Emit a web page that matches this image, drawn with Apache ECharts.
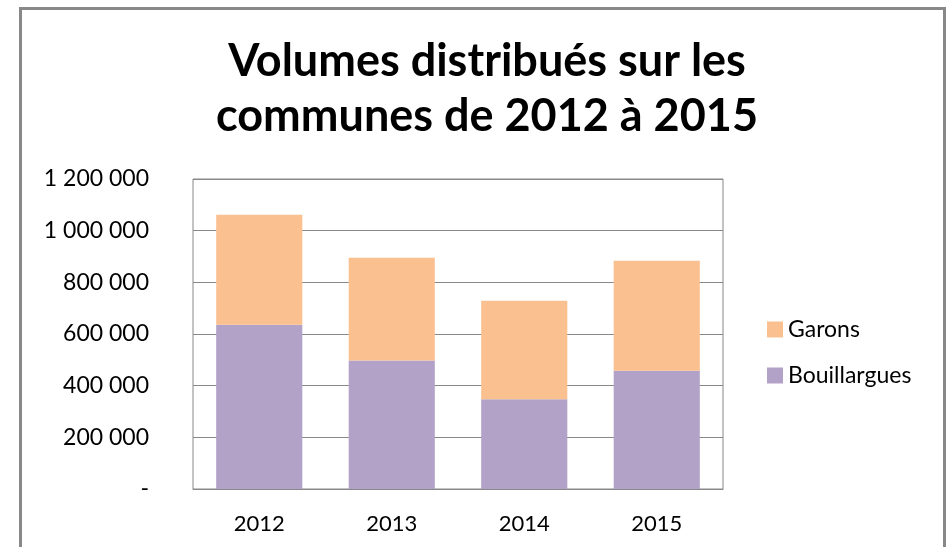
<!DOCTYPE html>
<html>
<head>
<meta charset="utf-8">
<script src="https://cdn.jsdelivr.net/npm/echarts@6/dist/echarts.min.js"></script>
<style>html,body{margin:0;padding:0;background:#fff;}#c{width:950px;height:547px;}</style>
</head>
<body>
<div id="c"></div>
<script>
const titleText = 'Volumes distribués sur les\ncommunes de 2012 à 2015';
const categories = ['2012', '2013', '2014', '2015'];
const bouillargues = [636000, 497000, 347000, 458000];
const garons = [426000, 398000, 382000, 426000];
const yTicks = { min: 0, max: 1200000, interval: 200000 };

const chart = echarts.init(document.getElementById('c'));
const FONT = 'Lato';
function fmt(v) {
  if (v === 0) return '-';
  return String(v).replace(/\B(?=(\d{3})+(?!\d))/g, ' ');
}
chart.setOption({
  animation: false,
  backgroundColor: '#fff',
  title: {
    text: titleText,
    left: 482,
    top: 29,
    textAlign: 'center',
    textStyle: { fontFamily: FONT, fontWeight: 'bold', fontSize: 45, color: '#000', lineHeight: 55 }
  },
  graphic: [{
    type: 'rect',
    shape: { x: 20.5, y: 8.5, width: 924, height: 560 },
    style: { fill: 'none', stroke: '#888', lineWidth: 3 },
    silent: true
  }],
  legend: {
    orient: 'vertical',
    left: 762,
    top: 313,
    itemWidth: 16,
    itemHeight: 16,
    itemGap: 23,
    icon: 'rect',
    data: ['Garons', 'Bouillargues'],
    textStyle: { fontFamily: FONT, fontSize: 23, color: '#000' }
  },
  grid: { left: 193, top: 179, right: 227, bottom: 58, show: true, borderColor: '#888', borderWidth: 1, containLabel: false },
  xAxis: {
    type: 'category',
    data: categories,
    axisLine: { show: true, lineStyle: { color: '#888', width: 1 } },
    axisTick: { show: false },
    axisLabel: { fontFamily: FONT, fontSize: 22, color: '#000', margin: 24 }
  },
  yAxis: {
    type: 'value',
    min: yTicks.min,
    max: yTicks.max,
    interval: yTicks.interval,
    axisLine: { show: false },
    axisTick: { show: false },
    splitLine: { lineStyle: { color: '#888', width: 1 } },
    axisLabel: { fontFamily: FONT, fontSize: 23, color: '#000', margin: 44, formatter: fmt }
  },
  series: [
    { name: 'Bouillargues', type: 'bar', stack: 't', data: bouillargues, barCategoryGap: '35%', itemStyle: { color: '#B2A2C7' } },
    { name: 'Garons', type: 'bar', stack: 't', data: garons, barCategoryGap: '35%', itemStyle: { color: '#FAC090' } }
  ]
});
</script>
</body>
</html>
